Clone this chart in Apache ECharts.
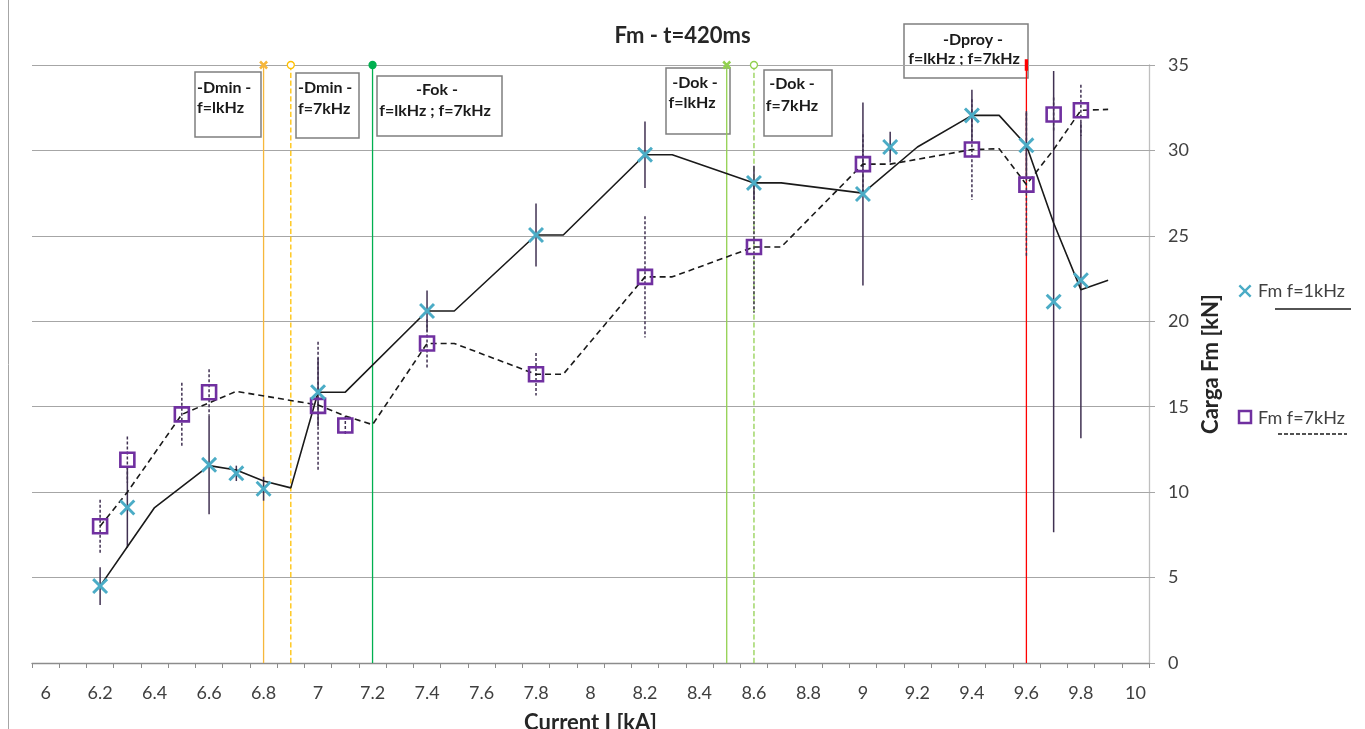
<!DOCTYPE html>
<html>
<head>
<meta charset="utf-8">
<title>Fm - t=420ms</title>
<script src="https://cdn.jsdelivr.net/npm/echarts@6/dist/echarts.min.js"></script>
<style>
  html, body { margin: 0; padding: 0; background: #ffffff; }
  #chart { width: 1365px; height: 729px; }
</style>
</head>
<body>
<div id="chart"></div>
<script>
// Axis labels
const xTickLabels = [6, 6.2, 6.4, 6.6, 6.8, 7, 7.2, 7.4, 7.6, 7.8, 8, 8.2, 8.4, 8.6, 8.8, 9, 9.2, 9.4, 9.6, 9.8, 10];

// Fm at f=1kHz: measured points and their error half-widths
const k1X   = [6.2, 6.3, 6.6, 6.7, 6.8, 7.0, 7.4, 7.8, 8.2, 8.6, 9.0, 9.1, 9.4, 9.6, 9.7, 9.8];
const k1Y   = [4.5, 9.1, 11.6, 11.1, 10.2, 15.85, 20.6, 25.05, 29.75, 28.1, 27.45, 30.2, 32.05, 30.3, 21.15, 22.4];
const k1Err = [1.1, 2.35, 2.9, 0.45, 0.7, 2.0, 1.2, 1.85, 1.95, 1.0, 5.35, 0.9, 1.5, 2.0, 13.5, 9.25];

// Fm at f=7kHz: measured points and their error half-widths
const k7X   = [6.2, 6.3, 6.5, 6.6, 7.0, 7.1, 7.4, 7.8, 8.2, 8.6, 9.0, 9.4, 9.6, 9.7, 9.8];
const k7Y   = [8.0, 11.9, 14.55, 15.85, 15.05, 13.9, 18.7, 16.9, 22.6, 24.35, 29.2, 30.05, 28.0, 32.1, 32.35];
const k7Err = [1.55, 1.35, 1.85, 1.35, 3.75, 0.55, 1.4, 1.25, 3.55, 3.85, 1.75, 2.95, 4.2, 1.0, 1.5];

// Trend curves
const lineK1X = [6.2, 6.3, 6.4, 6.6, 6.7, 6.8, 6.9, 7.0, 7.1, 7.4, 7.5, 7.8, 7.9, 8.2, 8.3, 8.6, 8.7, 9.0, 9.2, 9.4, 9.5, 9.6, 9.7, 9.8, 9.9];
const lineK1Y = [4.5, 6.8, 9.1, 11.55, 11.3, 10.65, 10.25, 15.85, 15.85, 20.6, 20.6, 25.05, 25.05, 29.75, 29.75, 28.1, 28.1, 27.5, 30.2, 32.05, 32.05, 30.3, 25.75, 21.85, 22.4];
const lineK7X = [6.2, 6.3, 6.5, 6.7, 7.0, 7.1, 7.2, 7.4, 7.5, 7.8, 7.9, 8.2, 8.3, 8.6, 8.7, 9.0, 9.1, 9.4, 9.5, 9.6, 9.7, 9.8, 9.9];
const lineK7Y = [8.0, 10.0, 14.55, 15.9, 15.1, 14.45, 13.95, 18.7, 18.7, 16.9, 16.9, 22.6, 22.6, 24.35, 24.35, 29.2, 29.2, 30.05, 30.1, 28.0, 30.05, 32.35, 32.4];

// Vertical markers for the test thresholds
const refNames = ['Dmin 1kHz', 'Dmin 7kHz', 'Fok', 'Dok 1kHz', 'Dok 7kHz', 'Dproy'];
const refX     = [6.8, 6.9, 7.2, 8.5, 8.6, 9.6];

const FONT = 'Lato, "Open Sans", sans-serif';
const X_SYMBOL = 'path://M0,13L13,0L50,37L87,0L100,13L63,50L100,87L87,100L50,63L13,100L0,87L37,50Z';
const X_POINTS = [[0,13],[13,0],[50,37],[87,0],[100,13],[63,50],[100,87],[87,100],[50,63],[13,100],[0,87],[37,50]];

const refStyles = [
  { color: '#F6B73C', type: 'solid',  symbol: X_SYMBOL, size: 7, fill: '#F6B73C' },
  { color: '#FFC000', type: 'dashed', symbol: 'circle', size: 7, fill: '#ffffff' },
  { color: '#00B050', type: 'solid',  symbol: 'circle', size: 7, fill: '#00B050' },
  { color: '#92D050', type: 'solid',  symbol: X_SYMBOL, size: 7, fill: '#92D050' },
  { color: '#92D050', type: 'dashed', symbol: 'circle', size: 7, fill: '#ffffff' },
  { color: '#FF0000', type: 'solid',  symbol: 'rect',   size: [2, 7], fill: '#FF0000' }
];

// Minor ticks sit halfway between the labelled values
const xTicks = [];
for (let i = 0; i <= 41; i++) xTicks.push(Math.round((5.95 + i * 0.1) * 100) / 100);

const Y_MAX = 35;

function pairs(xs, ys) { return xs.map((x, i) => [x, ys[i]]); }
function errData(xs, ys, es) { return xs.map((x, i) => [x, ys[i] - es[i], ys[i] + es[i]]); }

function errorBars(name, data, dashed) {
  return {
    name: name,
    type: 'custom',
    z: 3,
    data: data,
    encode: { x: 0, y: [1, 2] },
    renderItem: function (params, api) {
      const x = api.value(0);
      const top = api.coord([x, api.value(2)]);
      const bot = api.coord([x, api.value(1)]);
      return {
        type: 'line',
        shape: { x1: top[0], y1: top[1], x2: bot[0], y2: bot[1] },
        style: { stroke: '#403152', lineWidth: 1.5, lineDash: dashed ? [3, 2] : null }
      };
    },
    silent: true
  };
}

const refSeries = refX.map((x, i) => {
  const s = refStyles[i];
  return {
    name: refNames[i],
    type: 'line',
    z: 1,
    data: [
      { value: [x, 0], symbol: 'none' },
      { value: [x, Y_MAX], symbol: s.symbol, symbolSize: s.size }
    ],
    lineStyle: { color: s.color, width: 1.3, type: s.type },
    itemStyle: { color: s.fill, borderColor: s.color, borderWidth: 1.3 },
    showSymbol: true,
    silent: true,
    animation: false
  };
});

// Annotation text boxes
function noteBox(x, y, w, h, lines) {
  const children = [{
    type: 'rect',
    shape: { x: x, y: y, width: w, height: h },
    style: { fill: '#ffffff', stroke: '#7f7f7f', lineWidth: 1.5 }
  }];
  lines.forEach(l => {
    children.push({
      type: 'text',
      x: l.x, y: l.y,
      style: {
        text: l.t, fill: '#1a1a1a', font: 'bold 16px ' + FONT,
        textAlign: l.a || 'left', textVerticalAlign: 'middle'
      }
    });
  });
  return { type: 'group', z: 5, children: children };
}

function crossPoints(cx, cy, size) {
  return X_POINTS.map(p => [cx - size / 2 + p[0] * size / 100, cy - size / 2 + p[1] * size / 100]);
}

const chart = echarts.init(document.getElementById('chart'), null, { renderer: 'canvas' });

chart.setOption({
  animation: false,
  backgroundColor: '#ffffff',
  textStyle: { fontFamily: FONT },
  title: {
    text: 'Fm - t=420ms',
    left: 'center',
    top: 20,
    textStyle: { fontFamily: FONT, fontSize: 22, fontWeight: 'bold', color: '#262626' }
  },
  grid: { left: 32, right: 216, top: 65, bottom: 66, containLabel: false, outerBoundsMode: 'none' },
  xAxis: {
    type: 'value',
    min: 5.95,
    max: 10.05,
    name: 'Current I [kA]',
    nameLocation: 'middle',
    nameGap: 49,
    nameTextStyle: { fontFamily: FONT, fontSize: 22, fontWeight: 'bold', color: '#262626' },
    axisLine: { show: true, onZero: false, lineStyle: { color: '#8c8c8c', width: 1.3 } },
    axisTick: { show: true, length: 5, customValues: xTicks, lineStyle: { color: '#8c8c8c' } },
    axisLabel: {
      customValues: xTickLabels,
      margin: 21,
      fontFamily: FONT, fontSize: 18, color: '#404040',
      formatter: v => String(v)
    },
    splitLine: { show: false }
  },
  yAxis: {
    type: 'value',
    position: 'right',
    min: 0,
    max: Y_MAX,
    interval: 5,
    name: 'Carga Fm [kN]',
    nameLocation: 'middle',
    nameRotate: 90,
    nameGap: 51,
    nameTextStyle: { fontFamily: FONT, fontSize: 22, fontWeight: 'bold', color: '#262626' },
    axisLine: { show: true, lineStyle: { color: '#bfbfbf', width: 1.3 } },
    axisTick: { show: true, length: 6, lineStyle: { color: '#a6a6a6' } },
    axisLabel: { margin: 19, fontFamily: FONT, fontSize: 18, color: '#404040' },
    splitLine: { show: true, lineStyle: { color: '#a6a6a6', width: 1.2 } }
  },
  series: [
    ...refSeries,
    errorBars('Err f=7kHz', errData(k7X, k7Y, k7Err), true),
    errorBars('Err f=1kHz', errData(k1X, k1Y, k1Err), false),
    {
      name: 'Trend f=1kHz',
      type: 'line',
      z: 4,
      data: pairs(lineK1X, lineK1Y),
      showSymbol: false,
      symbol: 'none',
      lineStyle: { color: '#1a1a1a', width: 1.6, type: 'solid' },
      silent: true
    },
    {
      name: 'Trend f=7kHz',
      type: 'line',
      z: 4,
      data: pairs(lineK7X, lineK7Y),
      showSymbol: false,
      symbol: 'none',
      lineStyle: { color: '#1a1a1a', width: 1.6, type: [6, 4] },
      silent: true
    },
    {
      name: 'Fm f=7kHz',
      type: 'scatter',
      z: 6,
      data: pairs(k7X, k7Y),
      symbol: 'rect',
      symbolSize: 14,
      itemStyle: { color: 'rgba(255,255,255,0)', borderColor: '#7030A0', borderWidth: 2.6, opacity: 1 },
      silent: true
    },
    {
      name: 'Fm f=1kHz',
      type: 'scatter',
      z: 7,
      data: pairs(k1X, k1Y),
      symbol: X_SYMBOL,
      symbolSize: 16,
      itemStyle: { color: '#4BACC6', opacity: 1 },
      silent: true
    }
  ],
  graphic: [
    // chart frame edge
    { type: 'line', z: 0, shape: { x1: 8.5, y1: 0, x2: 8.5, y2: 729 }, style: { stroke: '#a6a6a6', lineWidth: 1 } },

    noteBox(195, 72, 66, 65, [{ t: '-Dmin -', x: 197, y: 88 }, { t: 'f=lkHz', x: 197, y: 108 }]),
    noteBox(296, 73, 63, 65, [{ t: '-Dmin -', x: 298, y: 88 }, { t: 'f=7kHz', x: 298, y: 109 }]),
    noteBox(377, 76, 125, 60, [{ t: '-Fok -', x: 437, y: 90, a: 'center' }, { t: 'f=lkHz ; f=7kHz', x: 435, y: 111, a: 'center' }]),
    noteBox(666, 68, 64, 66, [{ t: '-Dok -', x: 695, y: 83, a: 'center' }, { t: 'f=lkHz', x: 692, y: 103, a: 'center' }]),
    noteBox(764, 70, 68, 66, [{ t: '-Dok -', x: 792, y: 84, a: 'center' }, { t: 'f=7kHz', x: 792, y: 106, a: 'center' }]),
    noteBox(904, 24, 124, 54, [{ t: '-Dproy -', x: 973, y: 40, a: 'center' }, { t: 'f=lkHz ; f=7kHz', x: 964, y: 59, a: 'center' }]),

    // legend
    {
      type: 'group', z: 8,
      children: [
        { type: 'polygon', shape: { points: crossPoints(1245, 291, 13) }, style: { fill: '#4BACC6' } },
        { type: 'text', x: 1258, y: 291, style: { text: 'Fm f=1kHz', fill: '#404040', font: '18px ' + FONT, textAlign: 'left', textVerticalAlign: 'middle' } },
        { type: 'line', shape: { x1: 1275, y1: 309, x2: 1351, y2: 309 }, style: { stroke: '#1a1a1a', lineWidth: 1.6 } },
        { type: 'rect', shape: { x: 1239, y: 411, width: 12, height: 12 }, style: { fill: 'none', stroke: '#7030A0', lineWidth: 2.5 } },
        { type: 'text', x: 1258, y: 418, style: { text: 'Fm f=7kHz', fill: '#404040', font: '18px ' + FONT, textAlign: 'left', textVerticalAlign: 'middle' } },
        { type: 'line', shape: { x1: 1278, y1: 434, x2: 1347, y2: 434 }, style: { stroke: '#1a1a1a', lineWidth: 1.6, lineDash: [4, 2] } }
      ]
    }
  ]
});
</script>
</body>
</html>
